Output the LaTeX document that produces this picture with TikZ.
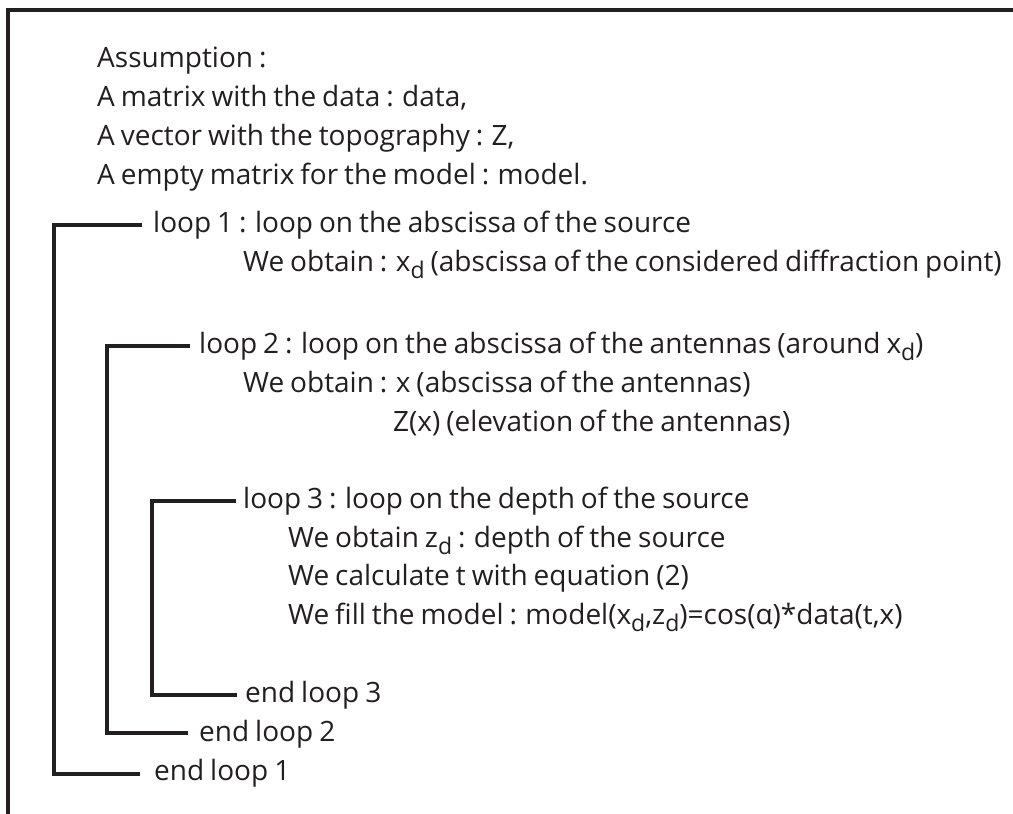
\documentclass[tikz,border=0pt]{standalone}
\usepackage{fontspec}
\setmainfont[WordSpace=0.82]{Open Sans}
\usepackage{graphicx}
\definecolor{ink}{HTML}{231F20}
\newcommand\sbd[1]{\raisebox{-7pt}{\fontsize{23}{23}\selectfont #1}}
\begin{document}
\begin{tikzpicture}[x=1pt,y=-1pt,
  txt/.style={anchor=base west, inner sep=0pt, text=ink, font=\fontsize{28}{34}\selectfont},
  bracket/.style={line width=3.5pt, draw=ink, line cap=butt, line join=miter},
  framestyle/.style={line width=4pt, draw=ink, line join=miter}]
\useasboundingbox (0,0) rectangle (1013,814);
\coordinate (ftop) at (1013,10);
\coordinate (fcorner) at (8,10);
\coordinate (fbot) at (8,814);
\draw[framestyle] (ftop) -- (fcorner) -- (fbot);

\node[txt] (h1) at (97,67) {Assumption :};
\node[txt] (h2) at (97,106) {A matrix with the data : data,};
\node[txt] (h3) at (97,145) {A vector with the topography : Z,};
\node[txt] (h4) at (97,184) {A empty matrix for the model : model.};

\node[txt] (l1) at (153,232) {loop 1 : loop on the abscissa of the source};
\node[txt] (l1a) at (243,271) {We obtain : x\sbd{d} (abscissa of the considered diffraction point)};

\node[txt] (l2) at (199,353) {loop 2 : loop on the abscissa of the antennas (around x\sbd{d})};
\node[txt] (l2a) at (243,392) {We obtain : x (abscissa of the antennas)};
\node[txt] (l2b) at (393,431) {Z(x) (elevation of the antennas)};

\node[txt] (l3) at (243,508) {loop 3 : loop on the depth of the source};
\node[txt] (l3a) at (288,547) {We obtain z\sbd{d} : depth of the source};
\node[txt] (l3b) at (288,585) {We calculate t with equation (2)};
\node[txt] (l3c) at (288,624) {We fill the model : model(x\sbd{d},z\sbd{d})=cos(α)*data(t,x)};

\node[txt] (e3) at (245,702) {end loop 3};
\node[txt] (e2) at (199,741) {end loop 2};
\node[txt] (e1) at (154,780) {end loop 1};

\draw[bracket] ([xshift=-11pt,yshift=7pt]l1.base west) -- ++(-88pt,0pt) |- ([xshift=-14pt,yshift=6pt]e1.base west);
\draw[bracket] ([xshift=-9pt,yshift=7pt]l2.base west) -- ++(-83pt,0pt) |- ([xshift=-11pt,yshift=8pt]e2.base west);
\draw[bracket] ([xshift=-7pt,yshift=7pt]l3.base west) -- ++(-84pt,0pt) |- ([xshift=-8pt,yshift=7pt]e3.base west);
\end{tikzpicture}
\end{document}
